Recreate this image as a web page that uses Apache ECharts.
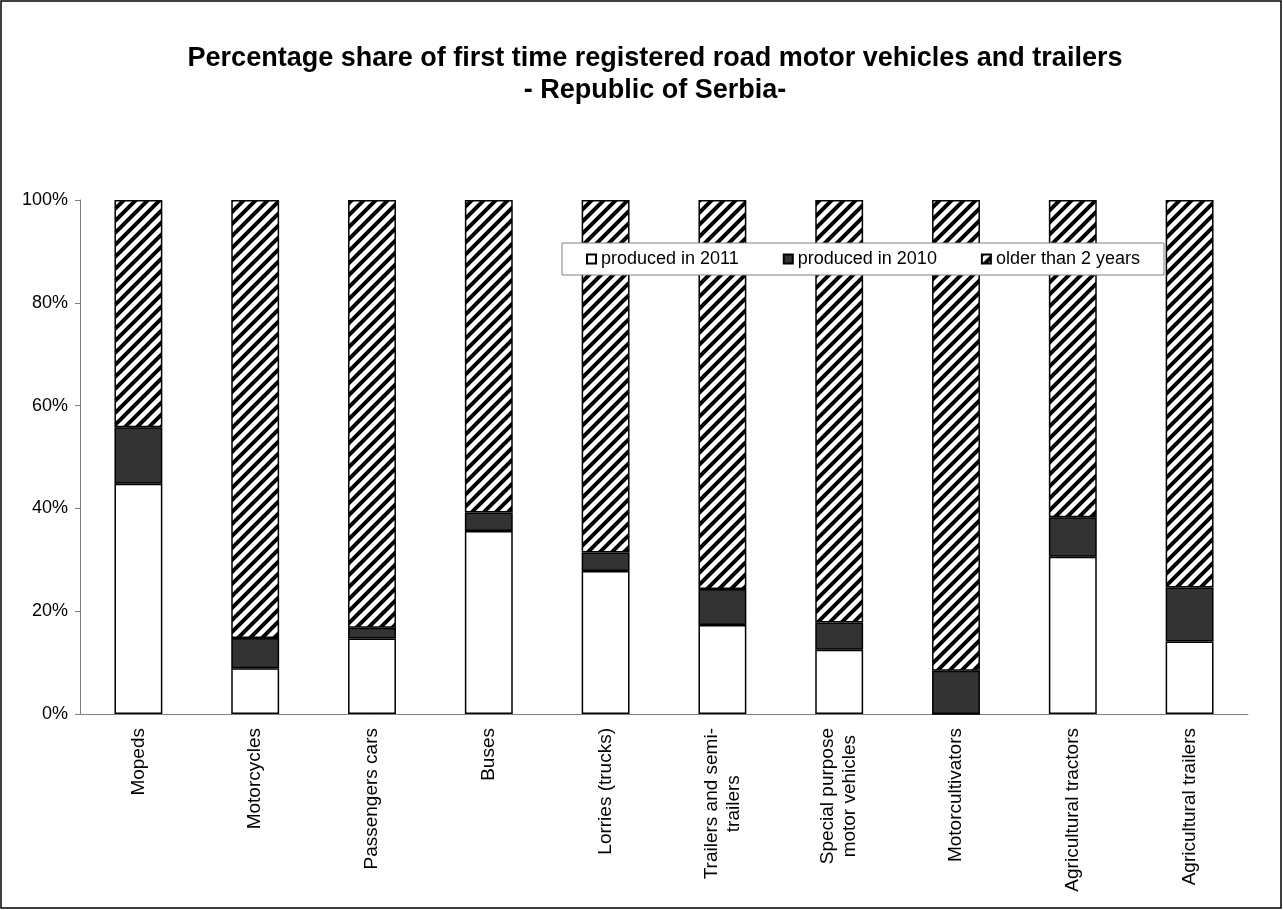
<!DOCTYPE html>
<html>
<head>
<meta charset="utf-8">
<script src="https://cdn.jsdelivr.net/npm/echarts@6/dist/echarts.min.js"></script>
<style>
  html, body { margin: 0; padding: 0; background: #fff; }
  #main { width: 1283px; height: 910px; }
</style>
</head>
<body>
<div id="main"></div>
<script>
var categories = ['Mopeds', 'Motorcycles', 'Passengers cars', 'Buses', 'Lorries (trucks)',
    'Trailers and semi-\ntrailers', 'Special purpose\nmotor vehicles', 'Motorcultivators',
    'Agricultural tractors', 'Agricultural trailers'];
var seriesNames = ['produced in 2011', 'produced in 2010', 'older than 2 years'];
var produced2011 = [44.8, 8.9, 14.7, 35.6, 27.8, 17.3, 12.5, 0, 30.6, 14.1];
var produced2010 = [11.0, 5.9, 2.1, 3.6, 3.6, 7.0, 5.3, 8.4, 7.7, 10.5];
var olderThan2 = [44.2, 85.2, 83.2, 60.8, 68.6, 75.7, 82.2, 91.6, 61.7, 75.4];
var yTicks = [0, 20, 40, 60, 80, 100];

var FONT = '"Liberation Sans", Arial, sans-serif';

// diagonal hatch like the excel "wide upward diagonal" fill
function hatch() {
    var c = document.createElement('canvas');
    var s = 12;
    c.width = s; c.height = s;
    var g = c.getContext('2d');
    g.fillStyle = '#fff';
    g.fillRect(0, 0, s, s);
    g.strokeStyle = '#000';
    g.lineWidth = 4;
    g.beginPath();
    g.moveTo(-s, s); g.lineTo(s, -s);
    g.moveTo(0, s); g.lineTo(s, 0);
    g.moveTo(0, 2 * s); g.lineTo(2 * s, 0);
    g.stroke();
    return c;
}

var myChart = echarts.init(document.getElementById('main'));

function bar(name, data, color) {
    return {
        name: name,
        type: 'bar',
        stack: 'total',
        barWidth: '41%',
        data: data,
        itemStyle: { color: color, borderColor: '#000', borderWidth: 1.5 },
        emphasis: { disabled: true }
    };
}

myChart.setOption({
    animation: false,
    backgroundColor: '#fff',
    title: {
        text: 'Percentage share of first time registered road motor vehicles and trailers\n- Republic of Serbia-',
        left: 650,
        top: 38,
        textAlign: 'center',
        textStyle: { fontFamily: FONT, fontSize: 27, fontWeight: 'bold', color: '#000', lineHeight: 32, align: 'center' }
    },
    legend: {
        data: seriesNames,
        left: 562,
        top: 243,
        padding: [7, 24],
        itemGap: 44,
        itemWidth: 9,
        itemHeight: 9,
        icon: 'rect',
        borderColor: '#808080',
        borderWidth: 1,
        backgroundColor: '#fff',
        textStyle: { fontFamily: FONT, fontSize: 18, color: '#000' }
    },
    graphic: [{
        type: 'rect',
        shape: { x: 1, y: 1, width: 1280, height: 907 },
        style: { fill: null, stroke: '#000', lineWidth: 1.5 },
        silent: true
    }],
    grid: { left: 80, right: 35, top: 200, bottom: 196 },
    xAxis: {
        type: 'category',
        data: categories,
        axisLine: { lineStyle: { color: '#808080', width: 1 } },
        axisTick: { show: false },
        axisLabel: {
            rotate: 90,
            interval: 0,
            margin: 14,
            fontFamily: FONT,
            fontSize: 19,
            color: '#000',
            formatter: function (v) {
                return v.split('\n').map(function (s) { return '{a|' + s + '}'; }).join('\n');
            },
            rich: { a: { align: 'center', fontFamily: FONT, fontSize: 19, color: '#000', lineHeight: 22 } }
        }
    },
    yAxis: {
        type: 'value',
        min: yTicks[0],
        max: yTicks[yTicks.length - 1],
        interval: 20,
        splitLine: { show: false },
        axisLine: { show: true, lineStyle: { color: '#808080', width: 1 } },
        axisTick: { show: true, inside: false, length: 5, lineStyle: { color: '#808080' } },
        axisLabel: {
            margin: 12,
            fontFamily: FONT,
            fontSize: 18,
            color: '#000',
            formatter: '{value}%'
        }
    },
    series: [
        bar(seriesNames[0], produced2011, '#ffffff'),
        bar(seriesNames[1], produced2010, '#333333'),
        bar(seriesNames[2], olderThan2, { image: hatch(), repeat: 'repeat' })
    ]
});
window.onresize = function () {
    myChart.resize();
};
</script>
</body>
</html>
